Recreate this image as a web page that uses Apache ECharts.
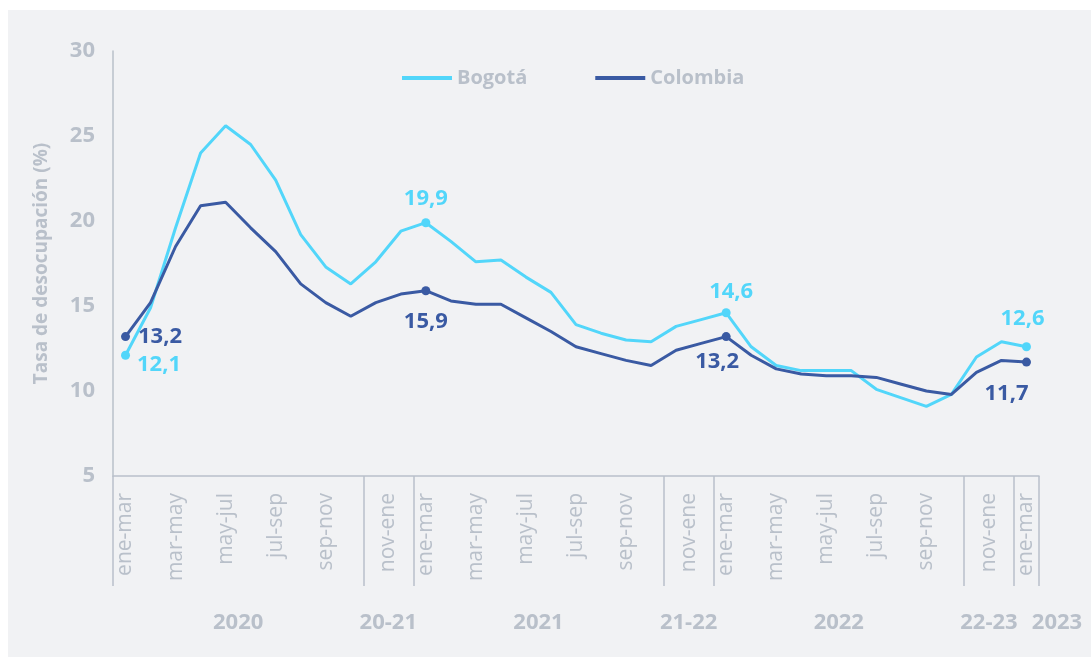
<!DOCTYPE html>
<html><head><meta charset="utf-8">
<script src="https://cdn.jsdelivr.net/npm/echarts@6/dist/echarts.min.js"></script>
<style>html,body{margin:0;padding:0;background:#fff;} #c{position:absolute;left:8px;top:10px;width:1083px;height:647px;background:#f1f2f4;}</style>
</head><body><div id="c"></div>
<script>
const categories = [
  'ene-mar','feb-abr','mar-may','abr-jun','may-jul','jun-ago','jul-sep','ago-oct','sep-nov','oct-dic',
  'nov-ene','dic-feb',
  'ene-mar','feb-abr','mar-may','abr-jun','may-jul','jun-ago','jul-sep','ago-oct','sep-nov','oct-dic',
  'nov-ene','dic-feb',
  'ene-mar','feb-abr','mar-may','abr-jun','may-jul','jun-ago','jul-sep','ago-oct','sep-nov','oct-dic',
  'nov-ene','dic-feb',
  'ene-mar'
];
const bogota = [12.1, 14.9, 19.6, 24.0, 25.6, 24.5, 22.4, 19.2, 17.3, 16.3,
                17.6, 19.4,
                19.9, 18.8, 17.6, 17.7, 16.7, 15.8, 13.9, 13.4, 13.0, 12.9,
                13.8, 14.2,
                14.6, 12.6, 11.5, 11.2, 11.2, 11.2, 10.1, 9.6, 9.1, 9.8,
                12.0, 12.9,
                12.6];
const colombia = [13.2, 15.2, 18.5, 20.9, 21.1, 19.6, 18.2, 16.3, 15.2, 14.4,
                  15.2, 15.7,
                  15.9, 15.3, 15.1, 15.1, 14.3, 13.5, 12.6, 12.2, 11.8, 11.5,
                  12.4, 12.8,
                  13.2, 12.1, 11.3, 11.0, 10.9, 10.9, 10.8, 10.4, 10.0, 9.8,
                  11.1, 11.8,
                  11.7];
const groupLabels = ['2020', '20-21', '2021', '21-22', '2022', '22-23', '2023'];
const groupSizes  = [10, 2, 10, 2, 10, 2, 1];
const labeledIdx  = [0, 12, 24, 36];

const GRAY = '#b9c0ca', CYAN = '#52d6fa', NAVY = '#3a5aa3';
const FONT = '"Open Sans", sans-serif';

const groupStarts = []; let acc = 0;
groupSizes.forEach(s => { groupStarts.push(acc); acc += s; });
const n = categories.length;

const monthAt = {};
groupStarts.forEach((st, g) => {
  const sz = groupSizes[g];
  if (sz <= 2) monthAt[2 * st + sz] = categories[st];
  else for (let i = st; i < st + sz; i += 2) monthAt[2 * i + 1] = categories[i];
});
const yearAt = {};
groupStarts.forEach((st, g) => {
  const sz = groupSizes[g];
  const last = g === groupStarts.length - 1;
  yearAt[last ? 2 * (st + sz) : 2 * st + sz] = { text: groupLabels[g], last };
});

const labelStyle = {
  bogota: {
    0:  { position: 'right', distance: 5, offset: [2, 9] },
    12: { position: 'top', distance: 8 },
    24: { position: 'top', distance: 6, offset: [5, 0] },
    36: { position: 'top', distance: 13, offset: [-4, 0] }
  },
  colombia: {
    0:  { position: 'right', distance: 8 },
    12: { position: 'bottom', distance: 16 },
    24: { position: 'bottom', distance: 10, offset: [-9, 0] },
    36: { position: 'bottom', distance: 16, offset: [-20, 0] }
  }
};

function seriesData(vals, spec, color) {
  return vals.map((v, i) => labeledIdx.includes(i) ? {
    value: v, symbol: 'circle', symbolSize: 9,
    label: Object.assign({
      show: true, color: color, fontWeight: 'bold', fontSize: 22, fontFamily: FONT,
      formatter: p => p.value.toFixed(1).replace('.', ',')
    }, spec[i])
  } : v);
}

const chart = echarts.init(document.getElementById('c'), null, { renderer: 'canvas' });
chart.setOption({
  animation: false,
  textStyle: { fontFamily: FONT },
  grid: { left: 105, top: 41, right: 52, bottom: 181, containLabel: false },
  legend: {
    data: ['Bogotá', 'Colombia'], left: 389, top: 53, icon: 'rect',
    itemWidth: 50, itemHeight: 4, itemGap: 68,
    textStyle: { color: GRAY, fontSize: 20, fontWeight: 'bold', fontFamily: FONT }
  },
  xAxis: [
    {
      type: 'category', data: categories, boundaryGap: true, position: 'bottom',
      axisLine: { lineStyle: { color: GRAY, width: 1.5 } },
      axisTick: { show: true, length: 110, interval: (i) => groupStarts.includes(i), lineStyle: { color: GRAY, width: 1.5 } },
      axisLabel: { show: false }, splitLine: { show: false }
    },
    {
      type: 'value', min: 0, max: n, interval: 0.5, position: 'bottom',
      axisLine: { show: false }, axisTick: { show: false }, splitLine: { show: false },
      axisLabel: {
        rotate: 90, margin: 17, color: GRAY, fontSize: 21, fontFamily: FONT,
        showMinLabel: true, showMaxLabel: true,
        formatter: v => monthAt[Math.round(v * 2)] || ''
      }
    },
    {
      type: 'value', min: 0, max: n, interval: 0.5, position: 'bottom',
      axisLine: { show: false }, axisTick: { show: false }, splitLine: { show: false },
      axisLabel: {
        margin: 136, color: GRAY, fontSize: 22, fontWeight: 'bold', fontFamily: FONT,
        showMinLabel: true, showMaxLabel: true,
        formatter: v => { const y = yearAt[Math.round(v * 2)]; if (!y) return ''; return y.last ? '{e|' + y.text + '}' : y.text; },
        rich: { e: { padding: [0, 0, 0, 36], fontSize: 22, fontWeight: 'bold', color: GRAY, fontFamily: FONT } }
      }
    }
  ],
  yAxis: {
    type: 'value', min: 5, max: 30, interval: 5,
    axisLine: { show: true, lineStyle: { color: GRAY, width: 1.5 } },
    axisTick: { show: false }, splitLine: { show: false },
    axisLabel: { margin: 18, color: GRAY, fontSize: 22, fontWeight: 'bold', fontFamily: FONT },
    name: 'Tasa de desocupación (%)', nameLocation: 'middle', nameGap: 62,
    nameTextStyle: { color: GRAY, fontSize: 19, fontWeight: 'bold', fontFamily: FONT }
  },
  series: [
    {
      name: 'Bogotá', type: 'line', data: seriesData(bogota, labelStyle.bogota, CYAN),
      symbol: 'none', showAllSymbol: true, color: CYAN,
      lineStyle: { width: 3, color: CYAN }, itemStyle: { color: CYAN }
    },
    {
      name: 'Colombia', type: 'line', data: seriesData(colombia, labelStyle.colombia, NAVY),
      symbol: 'none', showAllSymbol: true, color: NAVY,
      lineStyle: { width: 3, color: NAVY }, itemStyle: { color: NAVY }
    }
  ]
});
</script></body></html>
